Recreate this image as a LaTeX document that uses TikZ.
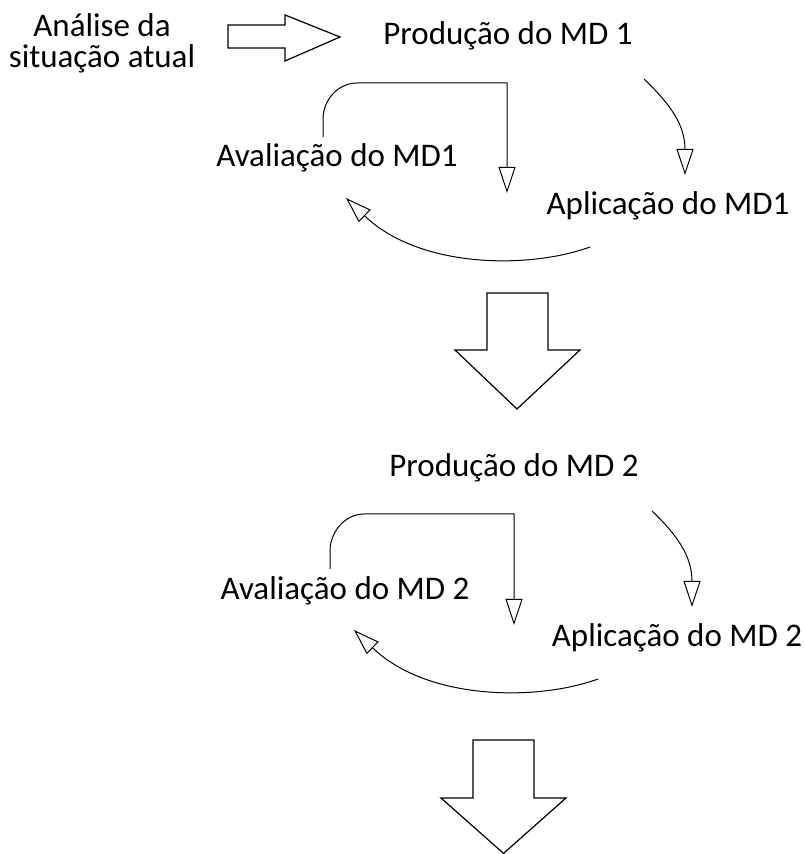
\documentclass[tikz,border=0pt]{standalone}
\usepackage{fontspec}
\setmainfont{Carlito}
\usetikzlibrary{arrows.meta}

\begin{document}
\begin{tikzpicture}[x=1pt, y=1pt,
  txt/.style={font=\fontsize{33}{31}\selectfont, inner sep=0pt},
  link/.style={line width=1pt, -{Triangle[open, length=26pt, width=17pt]}},
  bloco/.style={draw, line width=1.2pt, line join=miter}]
\useasboundingbox (0,0) rectangle (805,854);

% Textos da primeira etapa
\node[txt, align=center] (analise) at (102,811) {Análise da\\situação atual};
\node[txt, anchor=base] (prod1) at (508,809) {Produção do MD 1};
\node[txt, anchor=base] (aval1) at (337,687) {Avaliação do MD1};
\node[txt, anchor=base] (apl1) at (668,639) {Aplicação do MD1};

% Seta larga para a direita
\draw[bloco] (228,829) -- (285,829) -- (285,839) -- (340,817) -- (285,793) -- (285,806) -- (228,806) -- cycle;

% Ciclo do MD 1
\coordinate (e1) at (323,717);
\coordinate (e1tip) at (507,661);
\coordinate (r1) at (644,775);
\coordinate (r1tip) at (685,679);
\coordinate (b1) at (590,607);
\coordinate (b1tip) at (346,656);
\draw[link] (e1) -- (323,735) .. controls (323,754) and (338,771) .. (357,771) -| (e1tip);
\draw[link] (r1) .. controls (669,751) and (685,730) .. (r1tip);
\draw[link] (b1) .. controls (530,585) and (420,585) .. (b1tip);

% Primeira seta larga para baixo
\draw[bloco] (487,561) -- (548,561) -- (548,504) -- (580,504) -- (517,445) -- (455,504) -- (487,504) -- cycle;

% Textos da segunda etapa
\node[txt, anchor=base] (prod2) at (514,377) {Produção do MD 2};
\node[txt, anchor=base] (aval2) at (345,254) {Avaliação do MD 2};
\node[txt, anchor=base] (apl2) at (677,207) {Aplicação do MD 2};

% Ciclo do MD 2
\coordinate (e2) at (330,285);
\coordinate (e2tip) at (514,229);
\coordinate (r2) at (652,343);
\coordinate (r2tip) at (692,247);
\coordinate (b2) at (598,175);
\coordinate (b2tip) at (354,224);
\draw[link] (e2) -- (330,303) .. controls (330,322) and (345,340) .. (364,340) -| (e2tip);
\draw[link] (r2) .. controls (677,319) and (692,298) .. (r2tip);
\draw[link] (b2) .. controls (538,153) and (428,153) .. (b2tip);

% Segunda seta larga para baixo
\draw[bloco] (473,114) -- (534,114) -- (534,56) -- (566,56) -- (503.5,0.6) -- (441,56) -- (473,56) -- cycle;

\end{tikzpicture}
\end{document}
